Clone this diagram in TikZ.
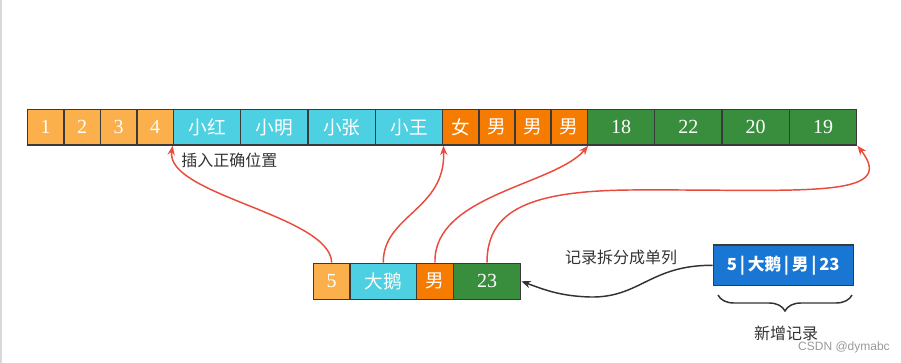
\documentclass[tikz,border=0pt]{standalone}
\usepackage{fontspec}
\setmainfont{Liberation Serif}
\newfontfamily\cjk{Noto Sans CJK SC}
\newfontfamily\wmfont{Liberation Sans}
\usetikzlibrary{arrows.meta,decorations.pathreplacing}
\definecolor{cY}{HTML}{FBB04B}
\definecolor{cC}{HTML}{4DD0E1}
\definecolor{cO}{HTML}{F57C00}
\definecolor{cG}{HTML}{388E3C}
\definecolor{cB}{HTML}{1976D2}
\definecolor{bordc}{HTML}{3A3A3A}
\definecolor{redc}{HTML}{EB4A3C}
\definecolor{darkc}{HTML}{333333}
\tikzset{
  cell/.style={draw=bordc, line width=1.1pt, inner sep=0pt, minimum height=26.6pt, text=white, font=\fontsize{15}{15}\selectfont},
  sw/.style={minimum width=27.3pt},
  bw/.style={minimum width=50.5pt},
  redarrow/.style={draw=redc, line width=1.1pt, -{Stealth[length=7pt,width=5.5pt]}},
  blackarrow/.style={draw=darkc, line width=1.1pt, -{Stealth[length=7pt,width=5.5pt]}},
  lbl/.style={text=darkc, font=\cjk\fontsize{12}{12}\selectfont, inner sep=0pt},
}
\begin{document}
\begin{tikzpicture}[x=0.75pt,y=-0.75pt]
\useasboundingbox (0,0) rectangle (901,363);
\draw[draw=black!15, line width=0.9pt] (1,0) -- (1,363);
% top row
\node[cell,sw,fill=cY] (t1) at (45.7,127.3) {1};
\node[cell,sw,fill=cY] (t2) at (82.2,127.3) {2};
\node[cell,sw,fill=cY] (t3) at (118.6,127.3) {3};
\node[cell,sw,fill=cY] (t4) at (155.1,127.3) {4};
\node[cell,bw,fill=cC] (t5) at (207.0,127.3) {\cjk\fontsize{14}{14}\selectfont 小红};
\node[cell,bw,fill=cC] (t6) at (274.3,127.3) {\cjk\fontsize{14}{14}\selectfont 小明};
\node[cell,bw,fill=cC] (t7) at (341.7,127.3) {\cjk\fontsize{14}{14}\selectfont 小张};
\node[cell,bw,fill=cC] (t8) at (409.0,127.3) {\cjk\fontsize{14}{14}\selectfont 小王};
\node[cell,sw,fill=cO] (t9) at (460.8,127.3) {\cjk\fontsize{14}{14}\selectfont 女};
\node[cell,sw,fill=cO] (t10) at (497.0,127.3) {\cjk\fontsize{14}{14}\selectfont 男};
\node[cell,sw,fill=cO] (t11) at (533.1,127.3) {\cjk\fontsize{14}{14}\selectfont 男};
\node[cell,sw,fill=cO] (t12) at (569.2,127.3) {\cjk\fontsize{14}{14}\selectfont 男};
\node[cell,bw,fill=cG] (t13) at (621.0,127.3) {18};
\node[cell,bw,fill=cG] (t14) at (688.3,127.3) {22};
\node[cell,bw,fill=cG] (t15) at (755.7,127.3) {20};
\node[cell,bw,fill=cG] (t16) at (823.0,127.3) {19};
% bottom row
\node[cell,minimum height=27pt,minimum width=27.5pt,fill=cY] (b1) at (331.7,281.3) {5};
\node[cell,minimum height=27pt,minimum width=50pt,fill=cC] (b2) at (383.3,281.3) {\cjk\fontsize{14}{14}\selectfont 大鹅};
\node[cell,minimum height=27pt,minimum width=27.5pt,fill=cO] (b3) at (435.0,281.3) {\cjk\fontsize{14}{14}\selectfont 男};
\node[cell,minimum height=27pt,minimum width=50.5pt,fill=cG] (b4) at (487.0,281.3) {23};
% record
\node[cell,minimum height=30.5pt,minimum width=105pt,fill=cB,font=\cjk\bfseries\fontsize{12.5}{12.5}\selectfont] (rec) at (783.3,265.3) {5\,|\,大鹅\,|\,男\,|\,23};
% labels
\node[lbl,anchor=west] (ins) at (181,160) {插入正确位置};
\node[lbl] (split) at (621,257) {记录拆分成单列};
\node[lbl] (new) at (786,333) {新增记录};
\node[text=black!40, font=\wmfont\fontsize{9}{9}\selectfont, inner sep=0pt] (wm) at (844,347) {CSDN @dymabc};
% red arrows
\draw[redarrow] (b1.north) .. controls (330,215) and (165,195) .. (t5.south west);
\draw[redarrow] (b2.north) .. controls (383,215) and (446,210) .. (t8.south east);
\draw[redarrow] (b3.north) .. controls (433,195) and (555,185) .. (t12.south east);
\draw[redarrow] (b4.north) .. controls (487,210) and (530,191) .. (630,190) .. controls (800,189) and (900,200) .. (t16.south east);
% black arrow
\draw[blackarrow] (rec.west) .. controls (650,265) and (640,298) .. (590,297) .. controls (560,296) and (545,290) .. (b4.east);
% brace
\coordinate (bl) at (718,295);
\coordinate (br) at (852,295);
\draw[draw=darkc, line width=1.1pt, decorate, decoration={brace,mirror,amplitude=12pt}] (bl) -- (br);
\end{tikzpicture}
\end{document}
